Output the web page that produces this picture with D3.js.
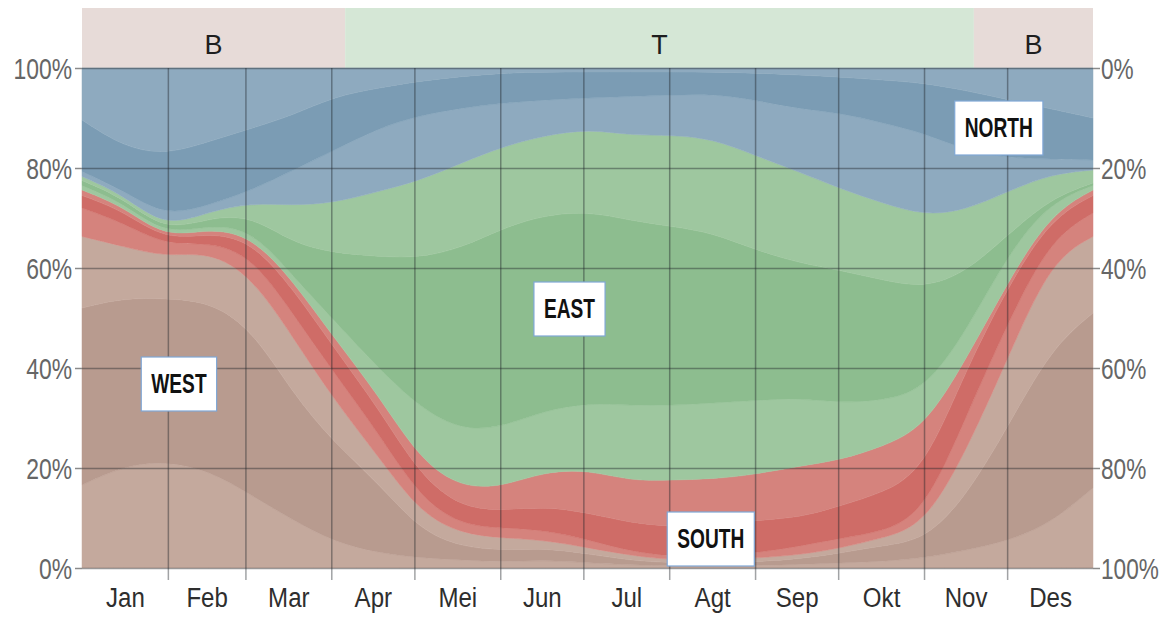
<!DOCTYPE html>
<html>
<head>
<meta charset="utf-8">
<script src="https://cdn.jsdelivr.net/npm/d3@7"></script>
<style>
  html, body { margin: 0; padding: 0; background: #ffffff; }
  svg { display: block; }
</style>
</head>
<body>
<svg id="chart" width="1171" height="618"></svg>
<script>
// Month names (Indonesian)
const monthNames = ['Jan', 'Feb', 'Mar', 'Apr', 'Mei', 'Jun', 'Jul', 'Agt', 'Sep', 'Okt', 'Nov', 'Des'];

// Day of year for each sample column
const sampleDays = [0, 15, 30, 46, 61, 76, 91, 107, 122, 137, 152, 167, 183, 198, 213, 228, 243, 259, 274, 289, 304, 319, 335, 350, 365];

// Share of hours (%) per wind direction band, stacked bottom to top.
// Pale bands are the halves of the in-between directions (NW, SW, SE, NE).
const westNW   = [16.6, 20.4, 21.4, 19.5, 14.6, 9.6, 5.2, 3.0, 2.0, 1.6, 1.2, 1.6, 1.0, 0.6, 0.4, 0.4, 0.5, 0.7, 1.0, 1.3, 2.0, 3.5, 5.5, 9.0, 16.0];
const west     = [35.4, 33.6, 32.5, 33.8, 33.4, 25.4, 19.8, 14.0, 5.5, 2.6, 2.3, 2.4, 1.8, 0.9, 0.6, 0.6, 0.7, 1.1, 2.0, 3.2, 3.5, 10.5, 23.5, 35.0, 35.0];
const westSW   = [14.3, 10.3, 8.3, 10.0, 10.5, 11.3, 8.6, 5.3, 3.5, 2.6, 2.5, 1.6, 1.2, 1.0, 0.6, 0.6, 0.8, 0.8, 1.0, 1.5, 3.0, 9.0, 14.0, 17.6, 15.3];
const southSW  = [5.7, 4.7, 2.3, 1.9, 4.0, 4.7, 5.4, 4.7, 3.0, 1.7, 2.0, 2.0, 1.6, 0.8, 0.7, 0.9, 1.0, 1.7, 2.0, 1.2, 2.5, 7.0, 7.0, 4.4, 4.7];
const south    = [2.5, 2.4, 1.0, 1.8, 3.0, 5.0, 5.0, 5.0, 4.5, 3.5, 3.5, 4.7, 5.4, 5.7, 6.0, 5.7, 6.6, 5.7, 6.5, 7.8, 8.5, 9.5, 7.0, 4.0, 3.5];
const southSE  = [1.1, 0.9, 0.5, 0.9, 1.0, 1.6, 2.0, 2.6, 3.1, 4.0, 4.8, 7.0, 8.6, 8.4, 9.3, 9.6, 9.1, 10.4, 9.1, 9.3, 8.5, 2.0, 1.0, 1.0, 1.1];
const eastSE   = [0.9, 0.7, 0.6, 0.7, 1.3, 0.9, 3.5, 5.4, 10.4, 11.5, 11.9, 12.2, 13.4, 15.1, 14.9, 15.2, 14.8, 13.6, 11.4, 9.2, 7.5, 5.5, 5.5, 2.3, 0.9];
const east     = [1.0, 1.0, 0.7, 1.4, 2.7, 6.5, 13.5, 22.3, 30.0, 36.5, 39.8, 39.1, 38.3, 37.0, 35.8, 34.0, 30.1, 27.0, 26.5, 24.1, 20.5, 12.0, 3.5, 0.7, 0.5];
const eastNE   = [0.8, 0.6, 0.7, 1.3, 2.5, 7.5, 10.0, 13.0, 15.5, 17.0, 16.3, 15.9, 16.5, 17.0, 18.3, 18.8, 18.9, 18.2, 16.3, 15.4, 14.5, 12.5, 8.5, 4.8, 2.6];
const northNE  = [1.0, 0.9, 2.3, 1.3, 2.5, 7.0, 10.5, 12.7, 13.0, 11.0, 8.7, 7.1, 6.2, 7.8, 8.0, 9.0, 11.1, 12.6, 15.2, 16.0, 16.5, 12.0, 6.5, 3.0, 2.0];
const north    = [10.3, 8.7, 12.3, 12.7, 12.4, 11.0, 10.8, 8.0, 6.9, 6.3, 6.0, 5.6, 5.2, 4.9, 4.6, 4.4, 5.4, 6.8, 7.2, 8.6, 10.0, 12.0, 11.6, 10.0, 8.4];
const northNW  = [10.4, 15.8, 17.4, 14.7, 12.1, 9.5, 5.7, 4.0, 2.6, 1.7, 1.0, 0.8, 0.8, 0.8, 0.8, 0.8, 1.0, 1.4, 1.8, 2.4, 3.0, 4.5, 6.4, 8.2, 10.0];

// Seasons shown in the strip above the plot (B = barat, T = timur)
const seasonLabels = ['B', 'T', 'B'];
const seasonStart = [0, 95, 322];
const seasonEnd = [95, 322, 365];

// Direction captions, anchored at a day of year and a cumulative share
const directionNames = ['NORTH', 'EAST', 'WEST', 'SOUTH'];
const directionDay = [331, 176, 35, 227];
const directionPct = [88, 51.8, 36.8, 5.8];

const percentTicks = [0, 20, 40, 60, 80, 100];

// ---------------------------------------------------------------
const W_LIGHT = '#c4a99d', W_DARK = '#b89b8f';
const S_LIGHT = '#d5837d', S_DARK = '#cf6c67';
const E_LIGHT = '#9ec79f', E_DARK = '#8dbd8f';
const N_LIGHT = '#8eaabf', N_DARK = '#7b9cb4';

const layers = [
  { key: 'westNW',  values: westNW,  color: W_LIGHT },
  { key: 'west',    values: west,    color: W_DARK },
  { key: 'westSW',  values: westSW,  color: W_LIGHT },
  { key: 'southSW', values: southSW, color: S_LIGHT },
  { key: 'south',   values: south,   color: S_DARK },
  { key: 'southSE', values: southSE, color: S_LIGHT },
  { key: 'eastSE',  values: eastSE,  color: E_LIGHT },
  { key: 'east',    values: east,    color: E_DARK },
  { key: 'eastNE',  values: eastNE,  color: E_LIGHT },
  { key: 'northNE', values: northNE, color: N_LIGHT },
  { key: 'north',   values: north,   color: N_DARK },
  { key: 'northNW', values: northNW, color: N_LIGHT }
];

const year0 = new Date(2023, 0, 1);
const year1 = new Date(2024, 0, 1);
const dayDate = d => d3.timeDay.offset(year0, d);

const margin = { left: 82, right: 1093, top: 68, bottom: 568 };
const svg = d3.select('#chart');

const x = d3.scaleTime().domain([year0, year1]).range([margin.left, margin.right]);
const y = d3.scaleLinear().domain([0, 100]).range([margin.bottom, margin.top]);
const yRight = d3.scaleLinear().domain([100, 0]).range([margin.bottom, margin.top]);

const FONT = "'Liberation Sans', Arial, sans-serif";

// Squeeze text horizontally around its anchor to mimic a narrow face
function condense(sel, k) {
  sel.each(function () {
    const x0 = +this.getAttribute('x') || 0;
    d3.select(this).attr('transform', `translate(${x0 * (1 - k)},0) scale(${k},1)`);
  });
}

// Season strip
const strip = svg.append('g');
seasonLabels.forEach((lab, i) => {
  const x0 = x(dayDate(seasonStart[i])), x1 = x(dayDate(seasonEnd[i]));
  strip.append('rect')
    .attr('x', x0).attr('y', 8)
    .attr('width', x1 - x0).attr('height', margin.top - 8)
    .attr('fill', lab === 'T' ? '#d5e7d6' : '#e7dbd8');
  strip.append('text')
    .attr('x', (x0 + x1) / 2).attr('y', 54)
    .attr('text-anchor', 'middle')
    .attr('font-family', FONT)
    .attr('font-size', 27)
    .attr('fill', '#1e1e1e')
    .text(lab);
});

// Stacked areas
const rows = sampleDays.map((d, i) => {
  const r = { date: dayDate(d) };
  layers.forEach(l => { r[l.key] = l.values[i]; });
  return r;
});
const series = d3.stack().keys(layers.map(l => l.key))(rows);
const area = d3.area()
  .x(d => x(d.data.date))
  .y0(d => y(d[0]))
  .y1(d => y(d[1]))
  .curve(d3.curveBasis);

svg.append('g').selectAll('path')
  .data(series)
  .join('path')
  .attr('d', area)
  .attr('fill', (s, i) => layers[i].color)
  .attr('stroke', (s, i) => layers[i].color)
  .attr('stroke-width', 0.5);

// Gridlines
const monthStarts = d3.timeMonth.range(year0, year1);
const gridColor = 'rgba(30,35,40,0.42)';

const vGrid = svg.append('g')
  .attr('transform', `translate(0,${margin.bottom + 12})`)
  .call(d3.axisBottom(x).tickValues(monthStarts.slice(1))
    .tickSizeInner(-(margin.bottom + 12 - margin.top)).tickSizeOuter(0).tickFormat(''));
vGrid.select('.domain').remove();
vGrid.selectAll('line').attr('stroke', gridColor).attr('stroke-width', 1.5);

const hGrid = svg.append('g')
  .attr('transform', `translate(${margin.left},0)`)
  .call(d3.axisLeft(y).tickValues(percentTicks)
    .tickSizeInner(-(margin.right - margin.left)).tickSizeOuter(0).tickFormat(''));
hGrid.select('.domain').remove();
hGrid.selectAll('line').attr('stroke', gridColor).attr('stroke-width', 1.5);

// Left axis (share from bottom)
const leftAxis = svg.append('g')
  .attr('transform', `translate(${margin.left},0)`)
  .call(d3.axisLeft(y).tickValues(percentTicks).tickSize(7).tickPadding(3)
    .tickFormat(d => d + '%'));
leftAxis.select('.domain').remove();
leftAxis.selectAll('line').attr('stroke', '#8a8a8a').attr('stroke-width', 1.5);
leftAxis.selectAll('text')
  .attr('font-family', FONT).attr('font-size', 29).attr('fill', '#666666')
  .attr('dy', '0.36em')
  .call(condense, 0.79);

// Right axis (share from top)
const rightAxis = svg.append('g')
  .attr('transform', `translate(${margin.right},0)`)
  .call(d3.axisRight(yRight).tickValues(percentTicks).tickSize(7).tickPadding(1)
    .tickFormat(d => d + '%'));
rightAxis.select('.domain').remove();
rightAxis.selectAll('line').attr('stroke', '#8a8a8a').attr('stroke-width', 1.5);
rightAxis.selectAll('text')
  .attr('font-family', FONT).attr('font-size', 29).attr('fill', '#666666')
  .attr('dy', '0.36em')
  .call(condense, 0.78);

// Month labels, centred in each month
const monthMids = monthStarts.map(m => new Date((+m + +d3.timeMonth.offset(m, 1)) / 2));
const bottomAxis = svg.append('g')
  .attr('transform', `translate(0,${margin.bottom})`)
  .call(d3.axisBottom(x).tickValues(monthMids).tickSize(0).tickPadding(0)
    .tickFormat((d, i) => monthNames[i]));
bottomAxis.select('.domain').remove();
bottomAxis.selectAll('text')
  .attr('font-family', FONT).attr('font-size', 28).attr('fill', '#2e2e2e')
  .attr('dy', null).attr('y', 39)
  .call(condense, 0.86);

// Direction captions in white boxes
const capG = svg.append('g');
directionNames.forEach((name, i) => {
  const cx = x(dayDate(directionDay[i]));
  const cy = y(directionPct[i]);
  const g = capG.append('g');
  const rect = g.append('rect');
  const t = g.append('text')
    .attr('x', cx).attr('y', cy)
    .attr('text-anchor', 'middle')
    .attr('dy', '0.35em')
    .attr('font-family', FONT)
    .attr('font-weight', 'bold')
    .attr('font-size', 27)
    .attr('fill', '#111111')
    .text(name);
  const full = t.node().getComputedTextLength();
  const squeeze = 0.71;
  t.call(condense, squeeze);
  const w = full * squeeze + 20;
  const h = 54;
  rect.attr('x', cx - w / 2).attr('y', cy - h / 2)
    .attr('width', w).attr('height', h)
    .attr('fill', '#ffffff')
    .attr('stroke', '#7fa7d6').attr('stroke-width', 1.2);
});
</script>
</body>
</html>
